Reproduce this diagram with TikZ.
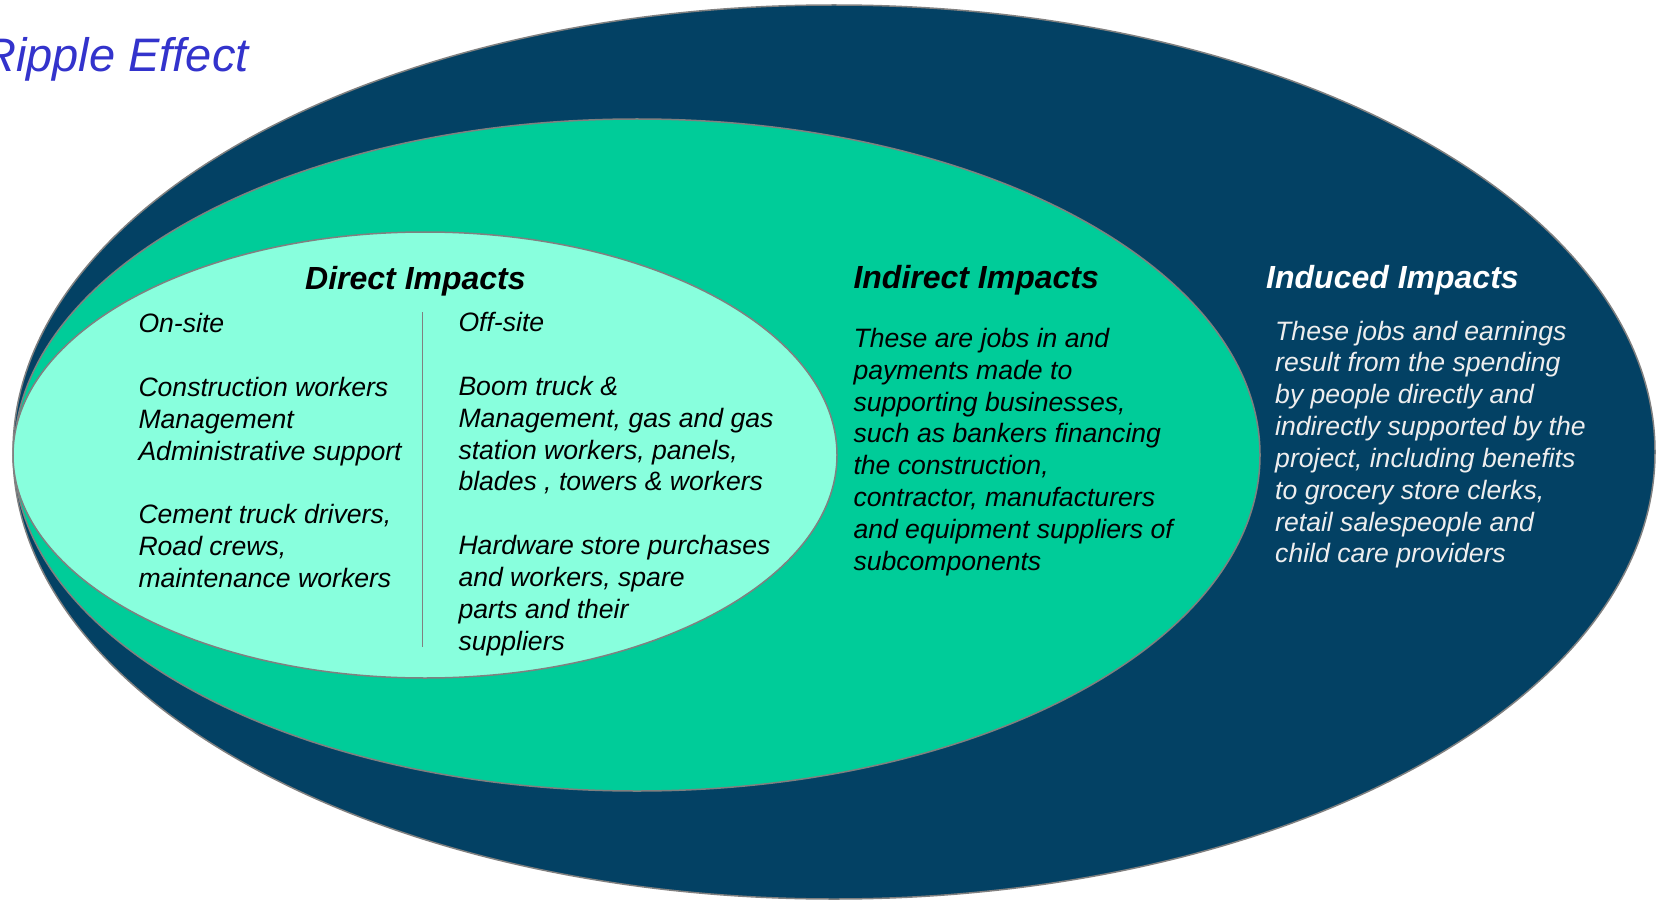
\documentclass[tikz,border=0pt]{standalone}
\usepackage{fontspec}
\setmainfont{Liberation Sans}
\definecolor{navy}{RGB}{3,65,100}
\definecolor{teal}{RGB}{0,204,153}
\definecolor{aqua}{RGB}{136,255,221}
\definecolor{edgegray}{RGB}{128,128,128}
\definecolor{titleblue}{RGB}{51,51,204}
\definecolor{lightwhite}{RGB}{238,238,238}
\newcommand{\textlines}[1]{\begin{tabular}[t]{@{}l@{}}#1\end{tabular}}
\begin{document}
\begin{tikzpicture}[x=1pt,y=-1pt,
  ring/.style={draw=edgegray,line width=1.5pt},
  body/.style={anchor=base west,inner sep=0pt,font=\fontsize{26.6pt}{31.85pt}\selectfont\itshape},
  head/.style={anchor=base west,inner sep=0pt,font=\fontsize{32pt}{38pt}\selectfont\bfseries\itshape}]
\useasboundingbox (0,0) rectangle (1656,901);
\fill[white] (0,0) rectangle (1656,901);
% ellipses
\filldraw[ring,fill=navy] (834,452) ellipse [x radius=821pt, y radius=447pt];
\filldraw[ring,fill=teal] (637,455) ellipse [x radius=623pt, y radius=336pt];
\filldraw[ring,fill=aqua] (425,455) ellipse [x radius=412pt, y radius=223pt];
% title
\node[anchor=base west,inner sep=0pt,text=titleblue,font=\fontsize{47pt}{56pt}\selectfont\itshape] (title) at (-18,71.7) {Ripple Effect};
% direct
\node[head] (direct) at (305,289.3) {Direct Impacts};
\coordinate (divtop) at (422.5,312);
\coordinate (divbot) at (422.5,647);
\draw[edgegray,line width=1.5pt] (divtop) -- (divbot);
\node[body] (onsite) at (138.3,332.7) {\textlines{On-site\\ \\Construction workers\\Management\\Administrative support\\ \\Cement truck drivers,\\Road crews,\\maintenance workers}};
\node[body] (offsite) at (458.3,331.7) {\textlines{Off-site\\ \\Boom truck \&\\Management, gas and gas\\station workers, panels,\\blades , towers \& workers\\ \\Hardware store purchases\\and workers, spare\\parts and their\\suppliers}};
% indirect
\node[head] (indirect) at (853.3,288.3) {Indirect Impacts};
\node[body] (indtext) at (853.3,347.3) {\textlines{These are jobs in and\\payments made to\\supporting businesses,\\such as bankers financing\\the construction,\\contractor, manufacturers\\and equipment suppliers of\\subcomponents}};
% induced
\node[head,text=white] (induced) at (1266,288.3) {Induced Impacts};
\node[body,text=lightwhite] (inducedtext) at (1275,340) {\textlines{These jobs and earnings\\result from the spending\\by people directly and\\indirectly supported by the\\project, including benefits\\to grocery store clerks,\\retail salespeople and\\child care providers}};
\end{tikzpicture}
\end{document}
